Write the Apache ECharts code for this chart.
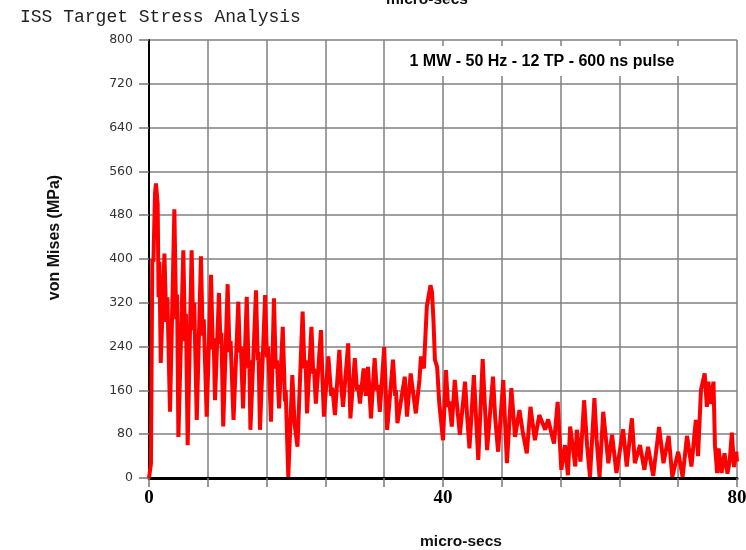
<!DOCTYPE html>
<html>
<head>
<meta charset="utf-8">
<script src="https://cdn.jsdelivr.net/npm/echarts@6/dist/echarts.min.js"></script>
<style>html,body{margin:0;padding:0;background:#fff;}#c{width:746px;height:550px;}</style>
</head>
<body>
<div id="c"></div>
<script>
const chartTitle = 'ISS Target Stress Analysis';
const annotation = '1 MW - 50 Hz - 12 TP - 600 ns pulse';
const xAxisName = 'micro-secs';
const yAxisName = 'von Mises (MPa)';
const xTickLabels = [0, 40, 80];

// [micro-secs, von Mises MPa]
const samples0to20 = [
  [0,0],[0.27,27],[0.36,220],[0.45,400],[0.6,395],[0.82,520],[0.95,538],[1.18,500],[1.3,330],[1.42,395],
  [1.6,210],[2.1,410],[2.35,285],[2.5,330],[2.86,121],[3.45,491],[3.7,290],[3.82,335],[4.0,75],[4.67,416],
  [4.9,250],[5.02,300],[5.26,60],[5.8,416],[6.02,270],[6.15,320],[6.5,106],[7.07,405],[7.3,260],[7.45,290],
  [7.85,112],[8.44,371],[8.68,235],[8.8,255],[8.98,142],[9.52,338],[9.72,245],[9.85,265],[10.1,94],[10.7,354],
  [10.95,230],[11.1,250],[11.5,106],[12.15,322],[12.35,230],[12.5,240],[12.8,127],[13.3,331],[13.55,200],[13.65,215],
  [13.8,88],[14.56,343],[14.8,215],[14.9,230],[15.1,88],[15.8,334],[16.05,220],[16.2,240],[16.6,103],[17.0,328],
  [17.25,200],[17.4,215],[17.7,127],[18.2,276],[18.5,140],[18.6,160],[18.95,2],[19.5,188],[19.8,100],[20.2,57]
];
const samples20to40 = [
  [20.9,304],[21.15,200],[21.3,215],[21.5,118],[22.1,276],[22.35,190],[22.45,200],[22.7,136],[23.4,270],[23.6,180],
  [23.8,112],[24.4,222],[24.8,150],[24.95,165],[25.3,115],[25.9,234],[26.15,170],[26.4,130],[27.1,246],[27.4,109],
  [28.0,219],[28.3,160],[28.45,170],[28.7,136],[29.2,200],[29.5,150],[29.8,203],[30.2,109],[30.7,219],[31.0,160],
  [31.15,170],[31.4,121],[32.0,239],[32.4,88],[33.2,216],[33.5,150],[33.6,160],[33.8,100],[34.8,185],[35.1,112],
  [35.6,191],[36.3,118],[36.8,179],[37.0,222],[37.4,200],[37.8,313],[38.3,352],[38.5,340],[38.7,289],[38.9,216],
  [39.2,203],[39.5,136],[40.0,69]
];
const samples40to60 = [
  [40.4,197],[40.7,130],[40.85,140],[41.2,94],[41.6,179],[42.0,120],[42.3,79],[43.0,176],[43.3,110],[43.6,54],
  [44.2,188],[44.5,110],[44.8,33],[45.4,217],[45.7,130],[46.0,51],[46.8,185],[47.1,110],[47.5,48],[48.2,179],
  [48.45,100],[48.7,27],[49.3,164],[49.8,75],[50.4,124],[50.9,80],[51.4,45],[51.9,130],[52.5,69],[53.1,115],
  [53.9,88],[54.3,107],[55.1,63],[55.6,139],[56.1,15],[56.6,60],[57.0,5],[57.3,94],[58.0,21],[58.2,88],
  [58.7,30],[59.2,142],[59.6,60],[60.0,2]
];
const samples60to80 = [
  [60.6,146],[60.9,70],[61.3,2],[61.8,121],[62.5,27],[63.0,79],[63.6,9],[64.5,89],[65.0,21],[65.7,109],
  [66.1,27],[66.8,60],[67.4,15],[67.9,57],[68.6,4],[69.4,93],[70.0,27],[70.7,77],[71.2,2],[72.0,48],
  [72.6,2],[73.2,77],[73.8,21],[74.4,106],[74.7,40],[75.1,161],[75.6,191],[75.9,130],[76.1,176],[76.4,135],
  [76.8,176],[77.0,60],[77.3,9],[77.5,54],[77.9,9],[78.3,45],[78.7,8],[79.0,30],[79.3,83],[79.6,20],
  [79.9,48],[80.0,30]
];

const seriesData = samples0to20.concat(samples20to40, samples40to60, samples60to80);

const chart = echarts.init(document.getElementById('c'), null, {renderer: 'canvas'});
chart.setOption({
  animation: false,
  backgroundColor: '#fff',
  title: {
    text: chartTitle,
    left: 15, top: 3,
    textStyle: {fontFamily: 'Liberation Mono', fontSize: 18, fontWeight: 'normal', color: '#222'}
  },
  grid: {left: 149, right: 9, top: 40, bottom: 72, outerBoundsMode: 'none', containLabel: false},
  xAxis: {
    type: 'value', min: 0, max: 80, interval: 8,
    name: xAxisName, nameLocation: 'middle', nameGap: 56,
    nameTextStyle: {fontFamily: 'Liberation Sans', fontWeight: 'bold', fontSize: 15.5, color: '#111', padding: [0, 0, 0, 36]},
    axisLine: {onZero: false, lineStyle: {color: '#000', width: 3}},
    axisTick: {show: true, length: 9, lineStyle: {color: '#777', width: 1.5}},
    axisLabel: {
      margin: 11,
      fontFamily: 'Liberation Serif', fontWeight: 'bold', fontSize: 19, color: '#000',
      formatter: v => (xTickLabels.indexOf(v) >= 0 ? String(v) : '')
    },
    splitLine: {show: true, lineStyle: {color: '#808080', width: 1.5}}
  },
  yAxis: {
    type: 'value', min: 0, max: 800, interval: 80,
    name: yAxisName, nameLocation: 'middle', nameGap: 86, nameRotate: 90,
    nameTextStyle: {fontFamily: 'Liberation Sans', fontWeight: 'bold', fontSize: 16, color: '#111', padding: [0, 0, 0, 43]},
    axisLine: {show: true, lineStyle: {color: '#000', width: 2}},
    axisTick: {show: true, length: 10, lineStyle: {color: '#777', width: 1.5}},
    axisLabel: {margin: 16, fontFamily: 'DejaVu Sans', fontSize: 12.5, color: '#333'},
    splitLine: {show: true, lineStyle: {color: '#808080', width: 1.5}}
  },
  series: [{
    type: 'line',
    data: seriesData,
    showSymbol: false,
    lineStyle: {color: '#ff0000', width: 4},
    itemStyle: {color: '#ff0000'},
    z: 3
  }],
  graphic: [
    {
      type: 'rect', left: 388, top: 46, z: 10,
      shape: {width: 312, height: 30},
      style: {fill: '#fff'}
    },
    {
      type: 'text', x: 542, y: 62, z: 11,
      style: {text: annotation, fill: '#000', font: 'bold 16px "Liberation Sans"', align: 'center', verticalAlign: 'middle'}
    },
    {
      type: 'text', x: 427, y: 8, z: 11,
      style: {text: xAxisName, fill: '#111', font: 'bold 15.5px "Liberation Sans"', align: 'center', verticalAlign: 'bottom'}
    }
  ]
});
</script>
</body>
</html>
